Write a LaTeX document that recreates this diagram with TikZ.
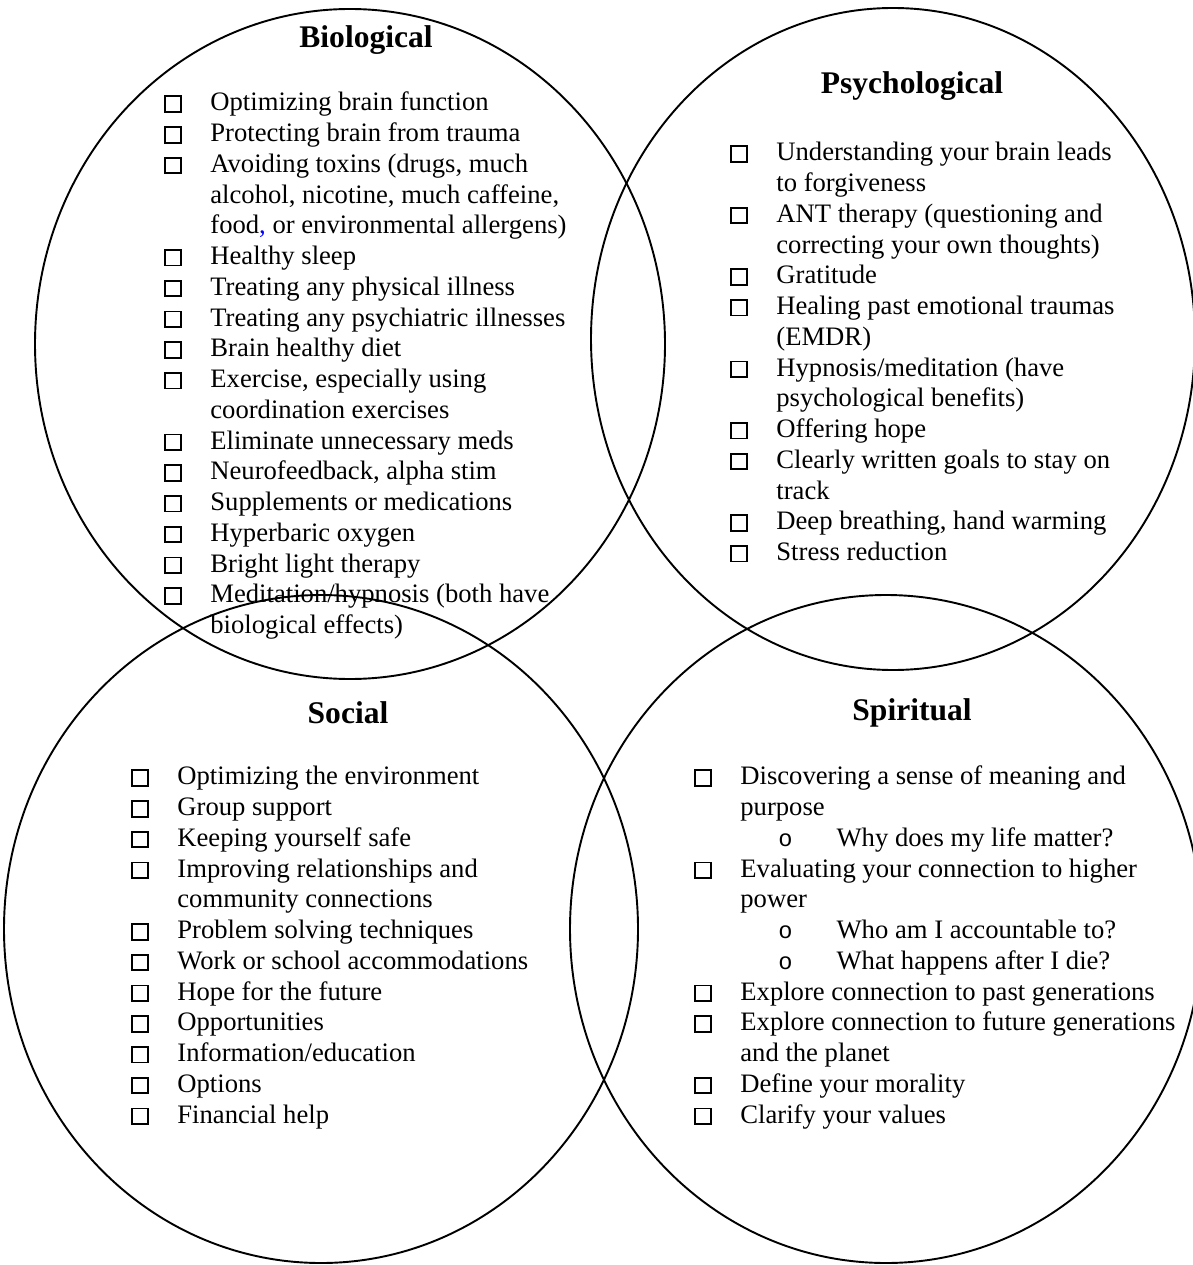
\documentclass[tikz,border=0pt]{standalone}
\usepackage{fontspec}
\setmainfont{Liberation Serif}
\newfontfamily\bulletfont{Liberation Mono}

% check box and line starts
\newcommand{\cbox}{{\setlength{\fboxsep}{0pt}\setlength{\fboxrule}{0.8pt}\fbox{\rule{0pt}{6.1pt}\rule{6.1pt}{0pt}}}}
\newcommand{\chk}{\strut\makebox[20.4pt][l]{\cbox}}
\newcommand{\cont}{\strut\hspace*{20.4pt}}
\newcommand{\subq}{\strut\hspace*{37.3pt}\makebox[25.8pt][l]{\fontsize{10.5pt}{12pt}\bulletfont o}}

\tikzset{
  area/.style={line width=0.85pt},
  title/.style={font={\fontsize{14pt}{16pt}\selectfont\bfseries}},
  items/.style={anchor=north west, inner sep=0pt, align=left,
    font={\fontsize{11.83pt}{13.65pt}\selectfont}}
}

\begin{document}
\begin{tikzpicture}[x=0.444pt,y=-0.444pt]

\useasboundingbox (0,0) rectangle (1193,1265);

\draw[area] (350,344) ellipse [x radius=315, y radius=335];
\draw[area] (893,339) ellipse [x radius=302, y radius=331];
\draw[area] (321,929) ellipse [x radius=317, y radius=334];
\draw[area] (886,929) ellipse [x radius=316, y radius=334];

\node[title] (bio) at (366,40) {Biological};
\node[title] (psy) at (912,86) {Psychological};
\node[title] (soc) at (348,713) {Social};
\node[title] (spi) at (912,713) {Spiritual};

\node[items] (biolist) at (164,89) {%
\chk Optimizing brain function\\
\chk Protecting brain from trauma\\
\chk Avoiding toxins (drugs, much\\
\cont alcohol, nicotine, much caffeine,\\
\cont food{\color{blue},} or environmental allergens)\\
\chk Healthy sleep\\
\chk Treating any physical illness\\
\chk Treating any psychiatric illnesses\\
\chk Brain healthy diet\\
\chk Exercise, especially using\\
\cont coordination exercises\\
\chk Eliminate unnecessary meds\\
\chk Neurofeedback, alpha stim\\
\chk Supplements or medications\\
\chk Hyperbaric oxygen\\
\chk Bright light therapy\\
\chk Meditation/hypnosis (both have\\
\cont biological effects)};

\node[items] (psylist) at (730,139) {%
\chk Understanding your brain leads\\
\cont to forgiveness\\
\chk ANT therapy (questioning and\\
\cont correcting your own thoughts)\\
\chk Gratitude\\
\chk Healing past emotional traumas\\
\cont (EMDR)\\
\chk Hypnosis/meditation (have\\
\cont psychological benefits)\\
\chk Offering hope\\
\chk Clearly written goals to stay on\\
\cont track\\
\chk Deep breathing, hand warming\\
\chk Stress reduction};

\node[items] (soclist) at (131,763) {%
\chk Optimizing the environment\\
\chk Group support\\
\chk Keeping yourself safe\\
\chk Improving relationships and\\
\cont community connections\\
\chk Problem solving techniques\\
\chk Work or school accommodations\\
\chk Hope for the future\\
\chk Opportunities\\
\chk Information/education\\
\chk Options\\
\chk Financial help};

\node[items] (spilist) at (694,763) {%
\chk Discovering a sense of meaning and\\
\cont purpose\\
\subq Why does my life matter?\\
\chk Evaluating your connection to higher\\
\cont power\\
\subq Who am I accountable to?\\
\subq What happens after I die?\\
\chk Explore connection to past generations\\
\chk Explore connection to future generations\\
\cont and the planet\\
\chk Define your morality\\
\chk Clarify your values};

\end{tikzpicture}
\end{document}
